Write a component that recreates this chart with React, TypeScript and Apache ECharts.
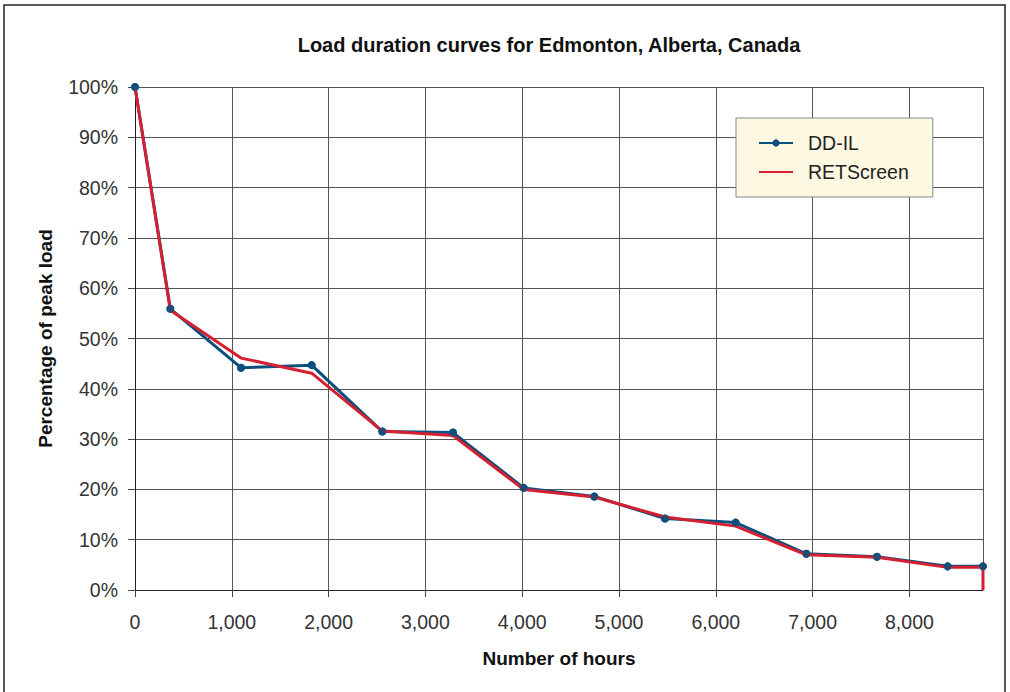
import React, { useEffect, useRef } from "react";
import * as echarts from "echarts";

const titleText = "Load duration curves for Edmonton, Alberta, Canada";
const xAxisName = "Number of hours";
const yAxisName = "Percentage of peak load";

const ddilHours = [0, 365, 1095, 1825, 2555, 3285, 4015, 4745, 5475, 6205, 6935, 7665, 8395, 8760];
const ddilValues = [100, 55.9, 44.2, 44.7, 31.5, 31.3, 20.3, 18.6, 14.2, 13.4, 7.2, 6.6, 4.7, 4.7];

const retHours = [0, 365, 1095, 1825, 2555, 3285, 4015, 4745, 5475, 6205, 6935, 7665, 8395, 8760, 8760];
const retValues = [100, 55.6, 46.1, 43.1, 31.6, 30.7, 20.0, 18.5, 14.5, 12.7, 7.0, 6.5, 4.5, 4.5, 0];

const seriesNames = ["DD-IL", "RETScreen"];

export default function App() {
  const ref = useRef<HTMLDivElement>(null);
  useEffect(() => {
    if (!ref.current) return;
    const chart = echarts.init(ref.current, null, { renderer: "svg" });
    const font = "'Liberation Sans', Arial, Helvetica, sans-serif";
    const ddData = ddilHours.map((h, i) => [h, ddilValues[i]]);
    const retData = retHours.map((h, i) => [h, retValues[i]]);
    chart.setOption({
      animation: false,
      backgroundColor: "#ffffff",
      textStyle: { fontFamily: font },
      title: {
        text: titleText,
        left: 544,
        textAlign: "center",
        top: 30,
        textStyle: { fontSize: 20, fontWeight: "bold", color: "#111", fontFamily: font },
      },
      graphic: [
        {
          type: "rect",
          shape: { x: 4, y: 5, width: 1001, height: 700 },
          style: { fill: "none", stroke: "#222", lineWidth: 1.5 },
          silent: true,
          z: -1,
        },
      ],
      legend: {
        data: [
          { name: seriesNames[0] },
          { name: seriesNames[1], itemStyle: { opacity: 0 } },
        ],
        orient: "vertical",
        left: 736,
        top: 118,
        backgroundColor: "#fdf8e1",
        borderColor: "#888",
        borderWidth: 1,
        padding: [15, 24, 15, 22],
        itemWidth: 34,
        itemHeight: 9,
        itemGap: 9,
        textStyle: {
          fontSize: 19.5,
          lineHeight: 20,
          color: "#222",
          fontFamily: font,
          padding: [0, 0, 0, 10],
        },
      },
      grid: { left: 135, right: 27, top: 87, bottom: 102, containLabel: false },
      xAxis: {
        type: "value",
        min: 0,
        max: 8760,
        interval: 1000,
        name: xAxisName,
        nameLocation: "middle",
        nameGap: 59,
        nameTextStyle: { fontSize: 19, fontWeight: "bold", color: "#111", fontFamily: font },
        axisLine: { show: true, lineStyle: { color: "#222", width: 1 } },
        axisTick: { show: true, length: 7, lineStyle: { color: "#444" } },
        axisLabel: {
          fontSize: 19.5,
          color: "#333",
          margin: 22,
          showMaxLabel: false,
          formatter: (v: number) => (v > 8000 ? "" : v.toLocaleString("en-US")),
        },
        splitLine: { show: true, lineStyle: { color: "#555", width: 1 } },
      },
      yAxis: {
        type: "value",
        min: 0,
        max: 100,
        interval: 10,
        name: yAxisName,
        nameLocation: "middle",
        nameGap: 80,
        nameTextStyle: { fontSize: 19, fontWeight: "bold", color: "#111", fontFamily: font },
        axisLine: { show: true, lineStyle: { color: "#222", width: 1 } },
        axisTick: { show: true, length: 7, lineStyle: { color: "#444" } },
        axisLabel: { fontSize: 19.5, color: "#333", margin: 17, formatter: "{value}%" },
        splitLine: { show: true, lineStyle: { color: "#555", width: 1 } },
      },
      series: [
        {
          name: seriesNames[0],
          type: "line",
          data: ddData,
          symbol: "circle",
          symbolSize: 8,
          showSymbol: true,
          itemStyle: { color: "#0b4f7e" },
          lineStyle: { color: "#0b4f7e", width: 3 },
          z: 2,
        },
        {
          name: seriesNames[1],
          type: "line",
          data: retData,
          symbol: "none",
          itemStyle: { color: "#d42030" },
          lineStyle: { color: "#d42030", width: 3 },
          z: 3,
        },
        {
          name: "DD-IL markers",
          type: "scatter",
          data: ddData,
          symbol: "circle",
          symbolSize: 8,
          itemStyle: { color: "#0b4f7e" },
          z: 4,
          silent: true,
        },
      ],
    });
    return () => chart.dispose();
  }, []);
  return (
    <div
      ref={ref}
      style={{ position: "absolute", left: 0, top: 0, width: 1010, height: 692 }}
    />
  );
}
